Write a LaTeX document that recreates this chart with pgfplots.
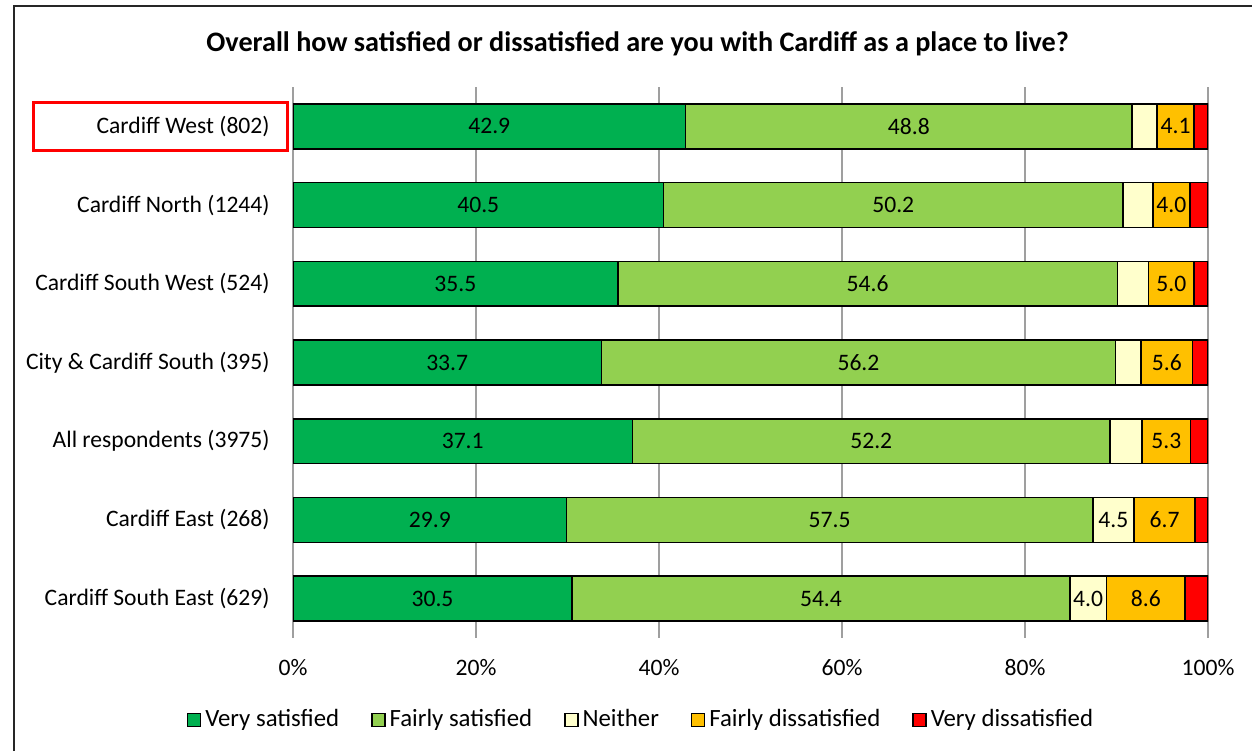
\documentclass[border=0pt]{standalone}
\usepackage{pgfplots}
\pgfplotsset{compat=1.18}
\usepackage{pgfplotstable}
\usepackage{fontspec}
\setmainfont{Carlito}
\definecolor{cvs}{HTML}{00B050}
\definecolor{cfs}{HTML}{92D050}
\definecolor{cne}{HTML}{FFFFCC}
\definecolor{cfd}{HTML}{FFC000}
\definecolor{cvd}{HTML}{FF0000}

\pgfplotstableread{
idx vs fs ne fd vd
0 42.9 48.8 2.7 4.1 1.5
1 40.5 50.2 3.3 4.0 2.0
2 35.5 54.6 3.4 5.0 1.5
3 33.7 56.2 2.8 5.6 1.7
4 37.1 52.2 3.5 5.3 1.9
5 29.9 57.5 4.5 6.7 1.4
6 30.5 54.4 4.0 8.6 2.5
}\data

\newcommand{\lblfont}{\fontsize{11.8}{13}\selectfont}
\newcommand{\legfont}{\fontsize{12.4}{14}\selectfont}

\pgfplotsset{
  midlabel/.style={
    point meta=explicit,
    every node near coord/.style={anchor=center, font=\lblfont, text=black, inner sep=0pt},
  },
}

\begin{document}
\lblfont
\begin{tikzpicture}
\useasboundingbox (0,0) rectangle (626pt,375.5pt);
\draw[line width=1pt, black!85] (7pt,0) -- (7pt,372.5pt) -- (626pt,372.5pt);
\node[font=\bfseries\fontsize{14.1}{16}\selectfont] at (318.8pt,353.5pt) {Overall how satisfied or dissatisfied are you with Cardiff as a place to live?};
\draw[red, line width=1.5pt] (16.5pt,300pt) rectangle (143.5pt,324pt);
\begin{axis}[
  at={(146.5pt,56.5pt)}, anchor=south west,
  scale only axis, width=457.5pt, height=275.5pt,
  xbar stacked, bar width=0.57,
  xmin=0, xmax=100, ymin=-0.5, ymax=6.5, y dir=reverse,
  ytick={0,1,2,3,4,5,6},
  yticklabels={Cardiff West (802),Cardiff North (1244),Cardiff South West (524),City \& Cardiff South (395),All respondents (3975),Cardiff East (268),Cardiff South East (629)},
  xtick={0,20,40,60,80,100},
  xticklabel={\pgfmathprintnumber{\tick}\%},
  /pgf/number format/assume math mode=true,
  tick label style={font=\lblfont},
  xticklabel style={anchor=center, yshift=-15pt},
  yticklabel style={anchor=east, inner sep=0pt, xshift=-11.5pt},
  xmajorgrids, grid style={gray!75, line width=0.9pt},
  axis line style={draw=none},
  major tick length=0pt,
  every axis plot/.append style={draw=black, line width=0.8pt},
  legend columns=5,
  legend cell align=left,
  legend style={at={(0.3814,-0.149)}, anchor=center, draw=none, font=\legfont,
    /tikz/every even column/.append style={column sep=14pt}},
  legend image code/.code={\draw[#1, draw=black, line width=0.7pt] (0pt,-3.25pt) rectangle (6.5pt,3.25pt);},
]
\addplot[fill=cvs, midlabel, nodes near coords={\makebox[0pt]{\pgfmathprintnumber[fixed,fixed zerofill,precision=1]{\pgfplotspointmeta}}}] table[x=vs, y=idx, meta=vs] \data;
\addlegendentry{Very satisfied}
\addplot[fill=cfs, midlabel, nodes near coords={\makebox[0pt]{\pgfmathprintnumber[fixed,fixed zerofill,precision=1]{\pgfplotspointmeta}}}] table[x=fs, y=idx, meta=fs] \data;
\addlegendentry{Fairly satisfied}
\addplot[fill=cne, midlabel, nodes near coords={\pgfmathfloattofixed{\pgfplotspointmeta}\ifdim\pgfmathresult pt<3.9pt\relax\else\makebox[0pt]{\pgfmathprintnumber[fixed,fixed zerofill,precision=1]{\pgfplotspointmeta}}\fi}] table[x=ne, y=idx, meta=ne] \data;
\addlegendentry{Neither}
\addplot[fill=cfd, midlabel, nodes near coords={\makebox[0pt]{\pgfmathprintnumber[fixed,fixed zerofill,precision=1]{\pgfplotspointmeta}}}] table[x=fd, y=idx, meta=fd] \data;
\addlegendentry{Fairly dissatisfied}
\addplot[fill=cvd] table[x=vd, y=idx] \data;
\addlegendentry{Very dissatisfied}
\end{axis}
\end{tikzpicture}
\end{document}
